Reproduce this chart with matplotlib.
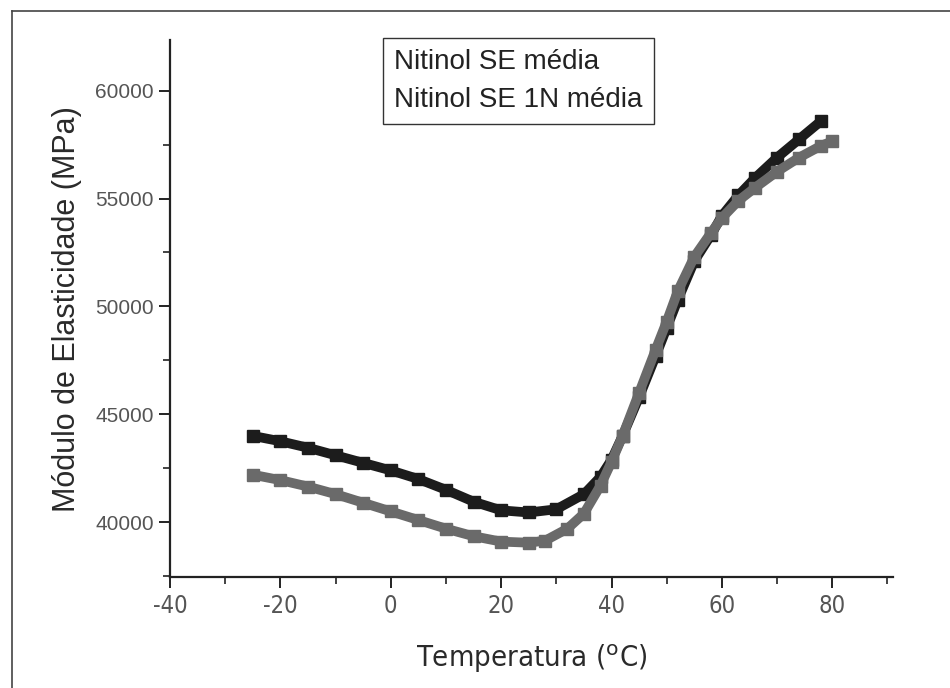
import matplotlib
matplotlib.use("Agg")
import matplotlib.pyplot as plt
from matplotlib.lines import Line2D
from matplotlib.ticker import MultipleLocator

plt.rcParams["axes.unicode_minus"] = False

# Nitinol SE média (black)
temp_se = [-25, -20, -15, -10, -5, 0, 5, 10, 15, 20, 25, 30, 35, 38, 40, 42,
           45, 48, 50, 52, 55, 58, 60, 63, 66, 70, 74, 78]
mod_se = [44000, 43750, 43450, 43100, 42750, 42400, 42000, 41500, 40950, 40550,
          40450, 40600, 41300, 42100, 42900, 44000, 45800, 47700, 49000, 50300,
          52100, 53300, 54200, 55150, 55950, 56900, 57750, 58600]

# Nitinol SE 1N média (gray)
temp_1n = [-25, -20, -15, -10, -5, 0, 5, 10, 15, 20, 25, 28, 32, 35, 38, 40,
           42, 45, 48, 50, 52, 55, 58, 60, 63, 66, 70, 74, 78, 80]
mod_1n = [42200, 41950, 41650, 41300, 40900, 40500, 40100, 39700, 39350, 39100,
          39050, 39150, 39700, 40400, 41700, 42800, 44000, 46000, 48000, 49300,
          50700, 52300, 53400, 54100, 54900, 55500, 56250, 56900, 57450, 57650]

labels = ["Nitinol SE média", "Nitinol SE 1N média"]

fig = plt.figure(figsize=(9.5, 6.88), dpi=100)
ax = fig.add_axes([0.179, 0.161, 0.761, 0.781])

ax.plot(temp_se, mod_se, color="#1c1c1c", lw=7, marker="s", ms=9,
        solid_capstyle="butt", label=labels[0])
ax.plot(temp_1n, mod_1n, color="#6a6a6a", lw=7, marker="s", ms=9,
        solid_capstyle="butt", label=labels[1])

ax.set_xlim(-40, 91)
ax.set_ylim(37450, 62350)
ax.xaxis.set_major_locator(MultipleLocator(20))
ax.xaxis.set_minor_locator(MultipleLocator(10))
ax.yaxis.set_major_locator(MultipleLocator(5000))
ax.yaxis.set_minor_locator(MultipleLocator(2500))

for s in ["top", "right"]:
    ax.spines[s].set_visible(False)
for s in ["left", "bottom"]:
    ax.spines[s].set_linewidth(1.6)
    ax.spines[s].set_color("#222222")

ax.tick_params(which="major", direction="out", length=8, width=1.4,
               colors="#222222", labelcolor="#555555")
ax.tick_params(which="minor", direction="out", length=5, width=1.2,
               colors="#222222")
ax.tick_params(axis="y", labelsize=15)
ax.tick_params(axis="x", labelsize=17, pad=4)
for lab in ax.get_xticklabels():
    lab.set_family(["DejaVu Sans"])
    lab.set_stretch("condensed")
for lab in ax.get_yticklabels():
    lab.set_family(["Liberation Sans", "DejaVu Sans"])

ax.set_xlabel("Temperatura ($^{\\rm o}$C)", fontsize=21, color="#2a2a2a",
              family=["DejaVu Sans"], fontstretch="condensed", labelpad=18)
ax.set_ylabel("Módulo de Elasticidade (MPa)", fontsize=22, color="#2a2a2a",
              family=["Liberation Sans", "DejaVu Sans"], labelpad=10)

leg = ax.legend(handles=[Line2D([], [], lw=0), Line2D([], [], lw=0)],
                labels=labels, loc="upper left", bbox_to_anchor=(0.2946, 1.004),
                borderaxespad=0, handlelength=0, handletextpad=0,
                fancybox=False, framealpha=1, edgecolor="#333333",
                borderpad=0.4, labelspacing=0.45,
                prop={"family": ["Liberation Sans", "DejaVu Sans"], "size": 20})
leg.get_frame().set_linewidth(1.0)
for t in leg.get_texts():
    t.set_color("#222222")

# page frame of the scanned figure
fig.add_artist(Line2D([12 / 950, 12 / 950], [0, 1 - 11 / 688],
                      transform=fig.transFigure, color="#444444", lw=1.2))
fig.add_artist(Line2D([12 / 950, 1], [1 - 11 / 688, 1 - 11 / 688],
                      transform=fig.transFigure, color="#444444", lw=1.2))

fig.savefig("out.png", dpi=100)
